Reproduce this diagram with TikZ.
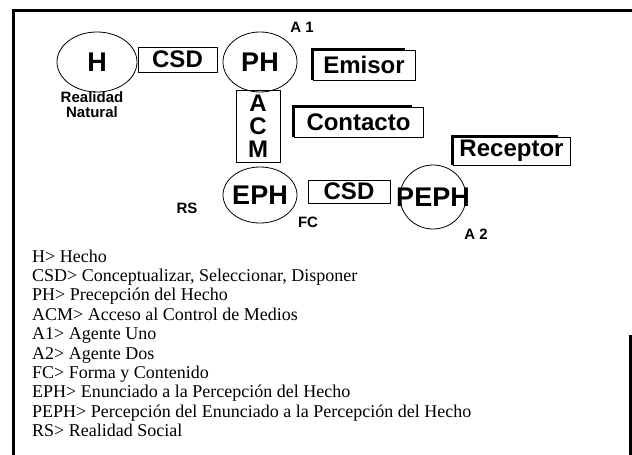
\documentclass[tikz,border=0pt]{standalone}
\usepackage{fontspec}
\setmainfont{Liberation Serif}
\newfontfamily\diagfont{Liberation Sans}
\usetikzlibrary{shapes.geometric}

\begin{document}
\begin{tikzpicture}
[x=1pt,y=-1pt,
  elldecorate/.style={shape=ellipse,draw,thick,inner sep=0pt,%
    font=\diagfont\bfseries\fontsize{27}{30}\selectfont},%
  boxdecorate/.style={shape=rectangle,draw,semithick,inner sep=0pt,%
    font=\diagfont\bfseries\fontsize{24}{23}\selectfont},%
  shadowdecorate/.style={line width=3.5pt},%
  tagdecorate/.style={font=\diagfont\bfseries\fontsize{15}{15}\selectfont},%
  keydecorate/.style={anchor=base west,inner sep=0pt,font=\fontsize{18}{20}\selectfont},%
  framedecorate/.style={line width=3pt}]
\useasboundingbox (0,0) rectangle (632,455);
%% frame
\draw[framedecorate] (13,455) -- (13,10) -- (632,10);
\draw[framedecorate] (630,335) -- (630,455);
%% ellipses
\foreach \nodename/\x/\y/\w/\h/\txt in {h/97/62/80/60/H, ph/260/62/74/60/PH,
  eph/260/195/74/56/EPH, peph/433/197/66/64/PEPH} {
  \node (\nodename) at (\x,\y) [elldecorate,minimum width=\w pt,minimum height=\h pt]
    {\makebox[0pt]{\txt}};
}
%% boxes
\foreach \nodename/\x/\y/\w/\h/\txt in {csdA/177.5/59.5/79/25/CSD,
  csdB/349/191.5/82/23/CSD, emi/364/65/102/30/Emisor,
  con/358.5/122/129/30/Contacto, rec/511.5/151/117/28/Receptor} {
  \node (\nodename) at (\x,\y) [boxdecorate,minimum width=\w pt,minimum height=\h pt] {\txt};
}
\node (acm) at (258,126) [boxdecorate,minimum width=44pt,minimum height=72pt,align=center]
  {A\\C\\M};
%% shadowed edges
\foreach \nodename/\len in {emi/92, con/118, rec/105} {
  \draw[shadowdecorate] (\nodename.south west) -- (\nodename.north west) -- ++(\len,0);
}
%% tags
\node (realidad) at (92,104.5) [tagdecorate,align=center] {Realidad\\Natural};
\node (aone) at (302,27) [tagdecorate] {A 1};
\node (rs) at (187,208) [tagdecorate] {RS};
\node (fc) at (308,222) [tagdecorate] {FC};
\node (atwo) at (476,234) [tagdecorate] {A 2};
%% key
\foreach \txt [count=\i from 0] in {H> Hecho,
  {CSD> Conceptualizar, Seleccionar, Disponer},
  PH> Precepción del Hecho, ACM> Acceso al Control de Medios,
  A1> Agente Uno, A2> Agente Dos, FC> Forma y Contenido,
  EPH> Enunciado a la Percepción del Hecho,
  PEPH> Percepción del Enunciado a la Percepción del Hecho,
  RS> Realidad Social} {
  \node (key\i) at (32,262+19.4*\i) [keydecorate] {\txt};
}
\end{tikzpicture}
\end{document}
